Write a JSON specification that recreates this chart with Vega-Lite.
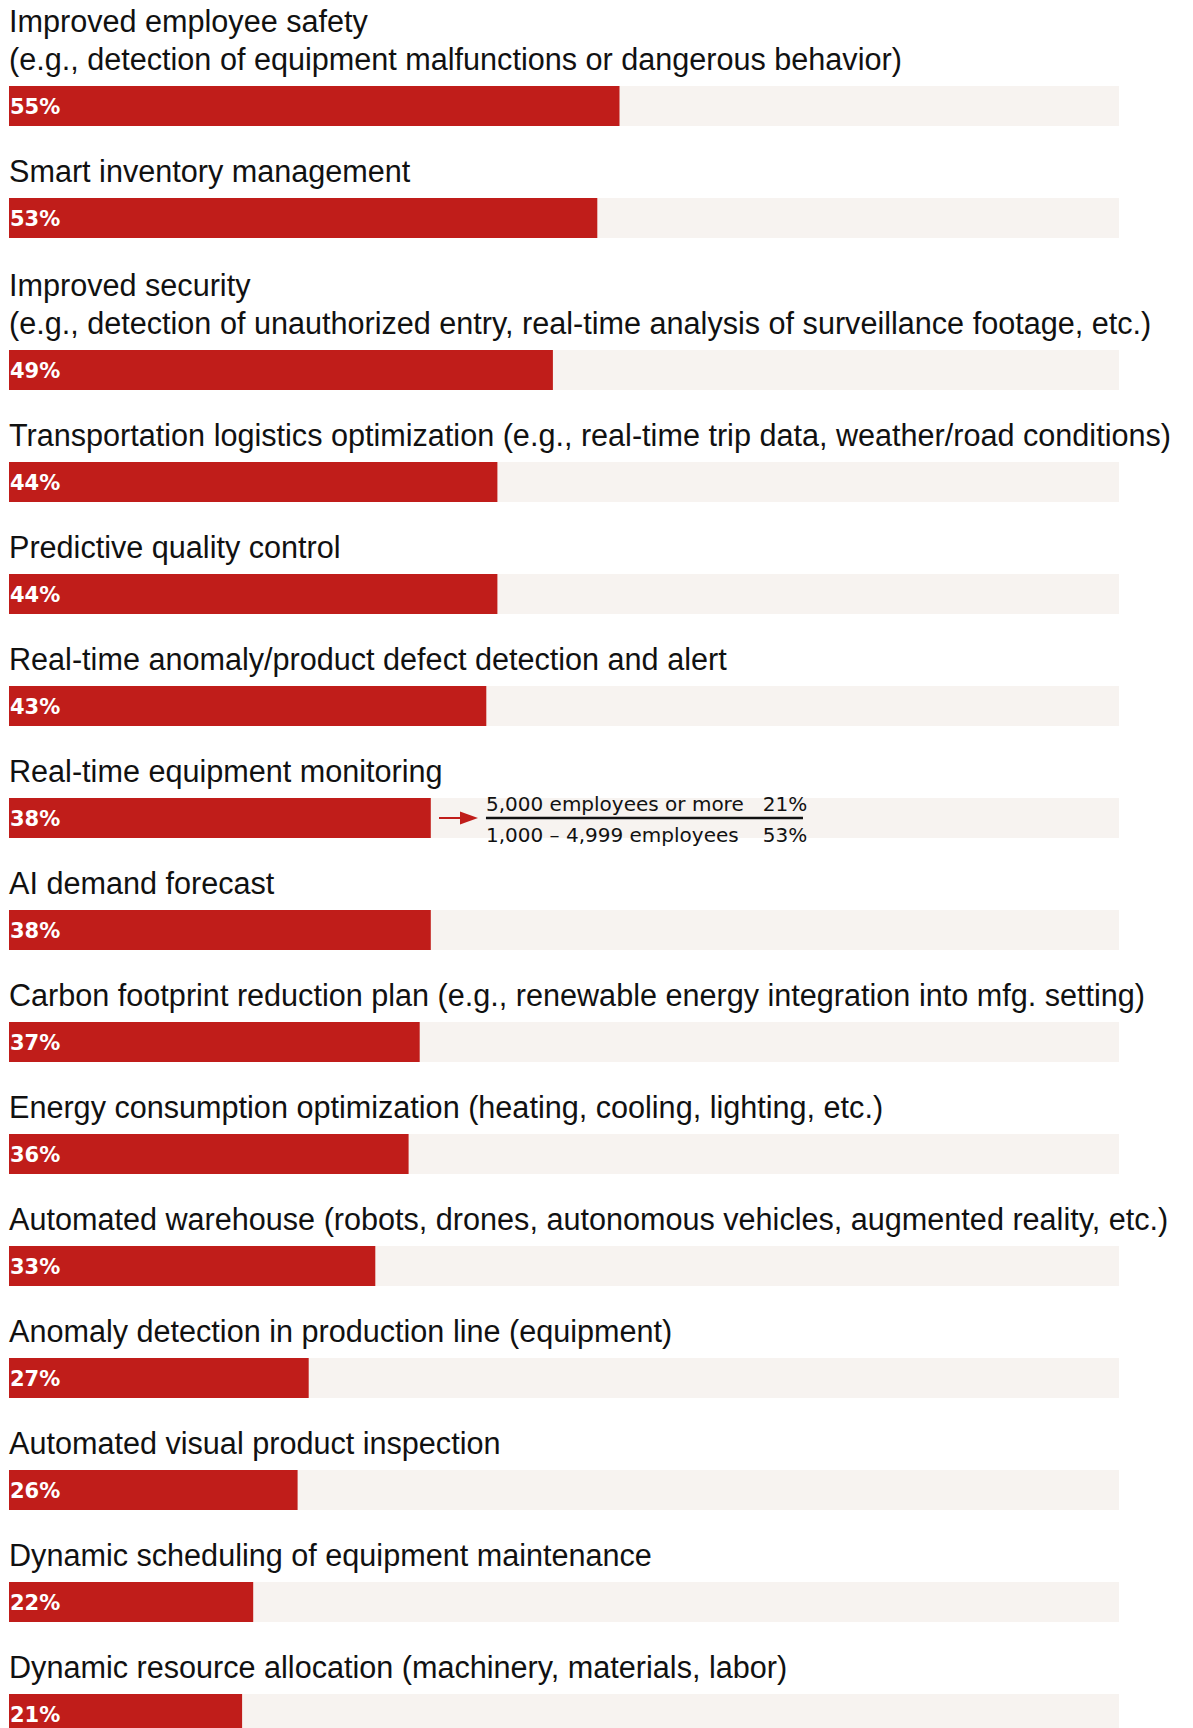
{
  "$schema": "https://vega.github.io/schema/vega-lite/v6.json",
  "background": "white",
  "padding": {"left": 9, "top": 0, "right": 0, "bottom": 0},
  "bounds": "flush",
  "spacing": 0,
  "config": {
    "view": {"stroke": null},
    "font": "Liberation Sans",
    "axis": {"disable": true}
  },
  "datasets": {
    "uses": [
      {"rank": 1, "use": "Improved employee safety\n(e.g., detection of equipment malfunctions or dangerous behavior)", "share": 0.55},
      {"rank": 2, "use": "Smart inventory management", "share": 0.53},
      {"rank": 3, "use": "Improved security\n(e.g., detection of unauthorized entry, real-time analysis of surveillance footage, etc.)", "share": 0.49},
      {"rank": 4, "use": "Transportation logistics optimization (e.g., real-time trip data, weather/road conditions)", "share": 0.44},
      {"rank": 5, "use": "Predictive quality control", "share": 0.44},
      {"rank": 6, "use": "Real-time anomaly/product defect detection and alert", "share": 0.43},
      {"rank": 7, "use": "Real-time equipment monitoring", "share": 0.38},
      {"rank": 8, "use": "AI demand forecast", "share": 0.38},
      {"rank": 9, "use": "Carbon footprint reduction plan (e.g., renewable energy integration into mfg. setting)", "share": 0.37},
      {"rank": 10, "use": "Energy consumption optimization (heating, cooling, lighting, etc.)", "share": 0.36},
      {"rank": 11, "use": "Automated warehouse (robots, drones, autonomous vehicles, augmented reality, etc.)", "share": 0.33},
      {"rank": 12, "use": "Anomaly detection in production line (equipment)", "share": 0.27},
      {"rank": 13, "use": "Automated visual product inspection", "share": 0.26},
      {"rank": 14, "use": "Dynamic scheduling of equipment maintenance", "share": 0.22},
      {"rank": 15, "use": "Dynamic resource allocation (machinery, materials, labor)", "share": 0.21}
    ],
    "split": [
      {"use": "Real-time equipment monitoring", "tier": 1, "group": "5,000 employees or more", "share": 0.21},
      {"use": "Real-time equipment monitoring", "tier": 2, "group": "1,000 – 4,999 employees", "share": 0.53}
    ]
  },
  "data": {"name": "uses"},
  "vconcat": [
    {
      "width": 1110, "height": 126,
      "transform": [{"filter": "datum.rank === 1"}],
      "encoding": {"y": {"field": "use", "type": "nominal", "axis": null, "scale": {"paddingInner": 0.0698, "paddingOuter": 1, "align": 1}}},
      "layer": [
        {"mark": {"type": "bar", "color": "#F7F3F0"}, "encoding": {"x": {"datum": 1, "type": "quantitative", "scale": {"domain": [0, 1]}, "axis": null}}},
        {"mark": {"type": "bar", "color": "#C01D1A"}, "encoding": {"x": {"field": "share", "type": "quantitative", "scale": {"domain": [0, 1]}, "axis": null}}},
        {"mark": {"type": "text", "align": "left", "baseline": "middle", "dx": 1, "dy": 2, "font": "DejaVu Sans", "fontSize": 21, "fontWeight": "bold", "color": "#ffffff"}, "encoding": {"x": {"datum": 0, "type": "quantitative", "scale": {"domain": [0, 1]}}, "text": {"field": "share", "format": ".0%"}}},
        {"mark": {"type": "text", "align": "left", "baseline": "bottom", "dy": -48, "lineBreak": "\n", "lineHeight": 38, "fontSize": 30.6, "color": "#111111"}, "encoding": {"x": {"datum": 0, "type": "quantitative", "scale": {"domain": [0, 1]}}, "y": {"field": "use", "type": "nominal", "bandPosition": 0}, "text": {"field": "use"}}}
      ]
    },
    {
      "width": 1110, "height": 112,
      "transform": [{"filter": "datum.rank === 2"}],
      "encoding": {"y": {"field": "use", "type": "nominal", "axis": null, "scale": {"paddingInner": 0, "paddingOuter": 0.9, "align": 1}}},
      "layer": [
        {"mark": {"type": "bar", "color": "#F7F3F0"}, "encoding": {"x": {"datum": 1, "type": "quantitative", "scale": {"domain": [0, 1]}, "axis": null}}},
        {"mark": {"type": "bar", "color": "#C01D1A"}, "encoding": {"x": {"field": "share", "type": "quantitative", "scale": {"domain": [0, 1]}, "axis": null}}},
        {"mark": {"type": "text", "align": "left", "baseline": "middle", "dx": 1, "dy": 2, "font": "DejaVu Sans", "fontSize": 21, "fontWeight": "bold", "color": "#ffffff"}, "encoding": {"x": {"datum": 0, "type": "quantitative", "scale": {"domain": [0, 1]}}, "text": {"field": "share", "format": ".0%"}}},
        {"mark": {"type": "text", "align": "left", "baseline": "bottom", "dy": -10, "lineBreak": "\n", "lineHeight": 38, "fontSize": 30.6, "color": "#111111"}, "encoding": {"x": {"datum": 0, "type": "quantitative", "scale": {"domain": [0, 1]}}, "y": {"field": "use", "type": "nominal", "bandPosition": 0}, "text": {"field": "use"}}}
      ]
    },
    {
      "width": 1110, "height": 152,
      "transform": [{"filter": "datum.rank === 3"}],
      "encoding": {"y": {"field": "use", "type": "nominal", "axis": null, "scale": {"paddingInner": 0.2857, "paddingOuter": 1, "align": 1}}},
      "layer": [
        {"mark": {"type": "bar", "color": "#F7F3F0"}, "encoding": {"x": {"datum": 1, "type": "quantitative", "scale": {"domain": [0, 1]}, "axis": null}}},
        {"mark": {"type": "bar", "color": "#C01D1A"}, "encoding": {"x": {"field": "share", "type": "quantitative", "scale": {"domain": [0, 1]}, "axis": null}}},
        {"mark": {"type": "text", "align": "left", "baseline": "middle", "dx": 1, "dy": 2, "font": "DejaVu Sans", "fontSize": 21, "fontWeight": "bold", "color": "#ffffff"}, "encoding": {"x": {"datum": 0, "type": "quantitative", "scale": {"domain": [0, 1]}}, "text": {"field": "share", "format": ".0%"}}},
        {"mark": {"type": "text", "align": "left", "baseline": "bottom", "dy": -48, "lineBreak": "\n", "lineHeight": 38, "fontSize": 30.6, "color": "#111111"}, "encoding": {"x": {"datum": 0, "type": "quantitative", "scale": {"domain": [0, 1]}}, "y": {"field": "use", "type": "nominal", "bandPosition": 0}, "text": {"field": "use"}}}
      ]
    },
    {
      "width": 1110, "height": 112,
      "transform": [{"filter": "datum.rank === 4"}],
      "encoding": {"y": {"field": "use", "type": "nominal", "axis": null, "scale": {"paddingInner": 0, "paddingOuter": 0.9, "align": 1}}},
      "layer": [
        {"mark": {"type": "bar", "color": "#F7F3F0"}, "encoding": {"x": {"datum": 1, "type": "quantitative", "scale": {"domain": [0, 1]}, "axis": null}}},
        {"mark": {"type": "bar", "color": "#C01D1A"}, "encoding": {"x": {"field": "share", "type": "quantitative", "scale": {"domain": [0, 1]}, "axis": null}}},
        {"mark": {"type": "text", "align": "left", "baseline": "middle", "dx": 1, "dy": 2, "font": "DejaVu Sans", "fontSize": 21, "fontWeight": "bold", "color": "#ffffff"}, "encoding": {"x": {"datum": 0, "type": "quantitative", "scale": {"domain": [0, 1]}}, "text": {"field": "share", "format": ".0%"}}},
        {"mark": {"type": "text", "align": "left", "baseline": "bottom", "dy": -10, "lineBreak": "\n", "lineHeight": 38, "fontSize": 30.6, "color": "#111111"}, "encoding": {"x": {"datum": 0, "type": "quantitative", "scale": {"domain": [0, 1]}}, "y": {"field": "use", "type": "nominal", "bandPosition": 0}, "text": {"field": "use"}}}
      ]
    },
    {
      "width": 1110, "height": 112,
      "transform": [{"filter": "datum.rank === 5"}],
      "encoding": {"y": {"field": "use", "type": "nominal", "axis": null, "scale": {"paddingInner": 0, "paddingOuter": 0.9, "align": 1}}},
      "layer": [
        {"mark": {"type": "bar", "color": "#F7F3F0"}, "encoding": {"x": {"datum": 1, "type": "quantitative", "scale": {"domain": [0, 1]}, "axis": null}}},
        {"mark": {"type": "bar", "color": "#C01D1A"}, "encoding": {"x": {"field": "share", "type": "quantitative", "scale": {"domain": [0, 1]}, "axis": null}}},
        {"mark": {"type": "text", "align": "left", "baseline": "middle", "dx": 1, "dy": 2, "font": "DejaVu Sans", "fontSize": 21, "fontWeight": "bold", "color": "#ffffff"}, "encoding": {"x": {"datum": 0, "type": "quantitative", "scale": {"domain": [0, 1]}}, "text": {"field": "share", "format": ".0%"}}},
        {"mark": {"type": "text", "align": "left", "baseline": "bottom", "dy": -10, "lineBreak": "\n", "lineHeight": 38, "fontSize": 30.6, "color": "#111111"}, "encoding": {"x": {"datum": 0, "type": "quantitative", "scale": {"domain": [0, 1]}}, "y": {"field": "use", "type": "nominal", "bandPosition": 0}, "text": {"field": "use"}}}
      ]
    },
    {
      "width": 1110, "height": 112,
      "transform": [{"filter": "datum.rank === 6"}],
      "encoding": {"y": {"field": "use", "type": "nominal", "axis": null, "scale": {"paddingInner": 0, "paddingOuter": 0.9, "align": 1}}},
      "layer": [
        {"mark": {"type": "bar", "color": "#F7F3F0"}, "encoding": {"x": {"datum": 1, "type": "quantitative", "scale": {"domain": [0, 1]}, "axis": null}}},
        {"mark": {"type": "bar", "color": "#C01D1A"}, "encoding": {"x": {"field": "share", "type": "quantitative", "scale": {"domain": [0, 1]}, "axis": null}}},
        {"mark": {"type": "text", "align": "left", "baseline": "middle", "dx": 1, "dy": 2, "font": "DejaVu Sans", "fontSize": 21, "fontWeight": "bold", "color": "#ffffff"}, "encoding": {"x": {"datum": 0, "type": "quantitative", "scale": {"domain": [0, 1]}}, "text": {"field": "share", "format": ".0%"}}},
        {"mark": {"type": "text", "align": "left", "baseline": "bottom", "dy": -10, "lineBreak": "\n", "lineHeight": 38, "fontSize": 30.6, "color": "#111111"}, "encoding": {"x": {"datum": 0, "type": "quantitative", "scale": {"domain": [0, 1]}}, "y": {"field": "use", "type": "nominal", "bandPosition": 0}, "text": {"field": "use"}}}
      ]
    },
    {
      "width": 1110, "height": 112,
      "encoding": {"y": {"field": "use", "type": "nominal", "axis": null, "scale": {"paddingInner": 0, "paddingOuter": 0.9, "align": 1}}},
      "layer": [
        {
          "transform": [{"filter": "datum.rank === 7"}],
          "layer": [
            {"mark": {"type": "bar", "color": "#F7F3F0"}, "encoding": {"x": {"datum": 1, "type": "quantitative", "scale": {"domain": [0, 1]}, "axis": null}}},
            {"mark": {"type": "bar", "color": "#C01D1A"}, "encoding": {"x": {"field": "share", "type": "quantitative", "scale": {"domain": [0, 1]}, "axis": null}}},
            {"mark": {"type": "text", "align": "left", "baseline": "middle", "dx": 1, "dy": 2, "font": "DejaVu Sans", "fontSize": 21, "fontWeight": "bold", "color": "#ffffff"}, "encoding": {"x": {"datum": 0, "type": "quantitative", "scale": {"domain": [0, 1]}}, "text": {"field": "share", "format": ".0%"}}},
            {"mark": {"type": "text", "align": "left", "baseline": "bottom", "dy": -10, "lineBreak": "\n", "lineHeight": 38, "fontSize": 30.6, "color": "#111111"}, "encoding": {"x": {"datum": 0, "type": "quantitative", "scale": {"domain": [0, 1]}}, "y": {"field": "use", "type": "nominal", "bandPosition": 0}, "text": {"field": "use"}}},
            {"mark": {"type": "rule", "color": "#C01D1A", "strokeWidth": 2}, "encoding": {"x": {"datum": 0.3874, "type": "quantitative", "scale": {"domain": [0, 1]}}, "x2": {"datum": 0.41}}},
            {"mark": {"type": "point", "shape": "M-1,-0.72L1,0L-1,0.72Z", "filled": true, "opacity": 1, "color": "#C01D1A", "size": 324}, "encoding": {"x": {"datum": 0.4144, "type": "quantitative", "scale": {"domain": [0, 1]}}}},
            {"mark": {"type": "rule", "color": "#111111", "strokeWidth": 2.6}, "encoding": {"x": {"datum": 0.4297, "type": "quantitative", "scale": {"domain": [0, 1]}}, "x2": {"datum": 0.7153}}}
          ]
        },
        {
          "data": {"name": "split"},
          "layer": [
            {"transform": [{"filter": "datum.tier === 1"}], "mark": {"type": "text", "align": "left", "baseline": "alphabetic", "dy": -7, "font": "DejaVu Sans", "fontSize": 20, "color": "#111111"}, "encoding": {"x": {"datum": 0.4297, "type": "quantitative", "scale": {"domain": [0, 1]}}, "text": {"field": "group"}}},
            {"transform": [{"filter": "datum.tier === 1"}], "mark": {"type": "text", "align": "left", "baseline": "alphabetic", "dy": -7, "font": "DejaVu Sans", "fontSize": 20, "color": "#111111"}, "encoding": {"x": {"datum": 0.679, "type": "quantitative", "scale": {"domain": [0, 1]}}, "text": {"field": "share", "format": ".0%"}}},
            {"transform": [{"filter": "datum.tier === 2"}], "mark": {"type": "text", "align": "left", "baseline": "alphabetic", "dy": 24, "font": "DejaVu Sans", "fontSize": 20, "color": "#111111"}, "encoding": {"x": {"datum": 0.4297, "type": "quantitative", "scale": {"domain": [0, 1]}}, "text": {"field": "group"}}},
            {"transform": [{"filter": "datum.tier === 2"}], "mark": {"type": "text", "align": "left", "baseline": "alphabetic", "dy": 24, "font": "DejaVu Sans", "fontSize": 20, "color": "#111111"}, "encoding": {"x": {"datum": 0.679, "type": "quantitative", "scale": {"domain": [0, 1]}}, "text": {"field": "share", "format": ".0%"}}}
          ]
        }
      ]
    },
    {
      "width": 1110, "height": 112,
      "transform": [{"filter": "datum.rank === 8"}],
      "encoding": {"y": {"field": "use", "type": "nominal", "axis": null, "scale": {"paddingInner": 0, "paddingOuter": 0.9, "align": 1}}},
      "layer": [
        {"mark": {"type": "bar", "color": "#F7F3F0"}, "encoding": {"x": {"datum": 1, "type": "quantitative", "scale": {"domain": [0, 1]}, "axis": null}}},
        {"mark": {"type": "bar", "color": "#C01D1A"}, "encoding": {"x": {"field": "share", "type": "quantitative", "scale": {"domain": [0, 1]}, "axis": null}}},
        {"mark": {"type": "text", "align": "left", "baseline": "middle", "dx": 1, "dy": 2, "font": "DejaVu Sans", "fontSize": 21, "fontWeight": "bold", "color": "#ffffff"}, "encoding": {"x": {"datum": 0, "type": "quantitative", "scale": {"domain": [0, 1]}}, "text": {"field": "share", "format": ".0%"}}},
        {"mark": {"type": "text", "align": "left", "baseline": "bottom", "dy": -10, "lineBreak": "\n", "lineHeight": 38, "fontSize": 30.6, "color": "#111111"}, "encoding": {"x": {"datum": 0, "type": "quantitative", "scale": {"domain": [0, 1]}}, "y": {"field": "use", "type": "nominal", "bandPosition": 0}, "text": {"field": "use"}}}
      ]
    },
    {
      "width": 1110, "height": 112,
      "transform": [{"filter": "datum.rank === 9"}],
      "encoding": {"y": {"field": "use", "type": "nominal", "axis": null, "scale": {"paddingInner": 0, "paddingOuter": 0.9, "align": 1}}},
      "layer": [
        {"mark": {"type": "bar", "color": "#F7F3F0"}, "encoding": {"x": {"datum": 1, "type": "quantitative", "scale": {"domain": [0, 1]}, "axis": null}}},
        {"mark": {"type": "bar", "color": "#C01D1A"}, "encoding": {"x": {"field": "share", "type": "quantitative", "scale": {"domain": [0, 1]}, "axis": null}}},
        {"mark": {"type": "text", "align": "left", "baseline": "middle", "dx": 1, "dy": 2, "font": "DejaVu Sans", "fontSize": 21, "fontWeight": "bold", "color": "#ffffff"}, "encoding": {"x": {"datum": 0, "type": "quantitative", "scale": {"domain": [0, 1]}}, "text": {"field": "share", "format": ".0%"}}},
        {"mark": {"type": "text", "align": "left", "baseline": "bottom", "dy": -10, "lineBreak": "\n", "lineHeight": 38, "fontSize": 30.6, "color": "#111111"}, "encoding": {"x": {"datum": 0, "type": "quantitative", "scale": {"domain": [0, 1]}}, "y": {"field": "use", "type": "nominal", "bandPosition": 0}, "text": {"field": "use"}}}
      ]
    },
    {
      "width": 1110, "height": 112,
      "transform": [{"filter": "datum.rank === 10"}],
      "encoding": {"y": {"field": "use", "type": "nominal", "axis": null, "scale": {"paddingInner": 0, "paddingOuter": 0.9, "align": 1}}},
      "layer": [
        {"mark": {"type": "bar", "color": "#F7F3F0"}, "encoding": {"x": {"datum": 1, "type": "quantitative", "scale": {"domain": [0, 1]}, "axis": null}}},
        {"mark": {"type": "bar", "color": "#C01D1A"}, "encoding": {"x": {"field": "share", "type": "quantitative", "scale": {"domain": [0, 1]}, "axis": null}}},
        {"mark": {"type": "text", "align": "left", "baseline": "middle", "dx": 1, "dy": 2, "font": "DejaVu Sans", "fontSize": 21, "fontWeight": "bold", "color": "#ffffff"}, "encoding": {"x": {"datum": 0, "type": "quantitative", "scale": {"domain": [0, 1]}}, "text": {"field": "share", "format": ".0%"}}},
        {"mark": {"type": "text", "align": "left", "baseline": "bottom", "dy": -10, "lineBreak": "\n", "lineHeight": 38, "fontSize": 30.6, "color": "#111111"}, "encoding": {"x": {"datum": 0, "type": "quantitative", "scale": {"domain": [0, 1]}}, "y": {"field": "use", "type": "nominal", "bandPosition": 0}, "text": {"field": "use"}}}
      ]
    },
    {
      "width": 1110, "height": 112,
      "transform": [{"filter": "datum.rank === 11"}],
      "encoding": {"y": {"field": "use", "type": "nominal", "axis": null, "scale": {"paddingInner": 0, "paddingOuter": 0.9, "align": 1}}},
      "layer": [
        {"mark": {"type": "bar", "color": "#F7F3F0"}, "encoding": {"x": {"datum": 1, "type": "quantitative", "scale": {"domain": [0, 1]}, "axis": null}}},
        {"mark": {"type": "bar", "color": "#C01D1A"}, "encoding": {"x": {"field": "share", "type": "quantitative", "scale": {"domain": [0, 1]}, "axis": null}}},
        {"mark": {"type": "text", "align": "left", "baseline": "middle", "dx": 1, "dy": 2, "font": "DejaVu Sans", "fontSize": 21, "fontWeight": "bold", "color": "#ffffff"}, "encoding": {"x": {"datum": 0, "type": "quantitative", "scale": {"domain": [0, 1]}}, "text": {"field": "share", "format": ".0%"}}},
        {"mark": {"type": "text", "align": "left", "baseline": "bottom", "dy": -10, "lineBreak": "\n", "lineHeight": 38, "fontSize": 30.6, "color": "#111111"}, "encoding": {"x": {"datum": 0, "type": "quantitative", "scale": {"domain": [0, 1]}}, "y": {"field": "use", "type": "nominal", "bandPosition": 0}, "text": {"field": "use"}}}
      ]
    },
    {
      "width": 1110, "height": 112,
      "transform": [{"filter": "datum.rank === 12"}],
      "encoding": {"y": {"field": "use", "type": "nominal", "axis": null, "scale": {"paddingInner": 0, "paddingOuter": 0.9, "align": 1}}},
      "layer": [
        {"mark": {"type": "bar", "color": "#F7F3F0"}, "encoding": {"x": {"datum": 1, "type": "quantitative", "scale": {"domain": [0, 1]}, "axis": null}}},
        {"mark": {"type": "bar", "color": "#C01D1A"}, "encoding": {"x": {"field": "share", "type": "quantitative", "scale": {"domain": [0, 1]}, "axis": null}}},
        {"mark": {"type": "text", "align": "left", "baseline": "middle", "dx": 1, "dy": 2, "font": "DejaVu Sans", "fontSize": 21, "fontWeight": "bold", "color": "#ffffff"}, "encoding": {"x": {"datum": 0, "type": "quantitative", "scale": {"domain": [0, 1]}}, "text": {"field": "share", "format": ".0%"}}},
        {"mark": {"type": "text", "align": "left", "baseline": "bottom", "dy": -10, "lineBreak": "\n", "lineHeight": 38, "fontSize": 30.6, "color": "#111111"}, "encoding": {"x": {"datum": 0, "type": "quantitative", "scale": {"domain": [0, 1]}}, "y": {"field": "use", "type": "nominal", "bandPosition": 0}, "text": {"field": "use"}}}
      ]
    },
    {
      "width": 1110, "height": 112,
      "transform": [{"filter": "datum.rank === 13"}],
      "encoding": {"y": {"field": "use", "type": "nominal", "axis": null, "scale": {"paddingInner": 0, "paddingOuter": 0.9, "align": 1}}},
      "layer": [
        {"mark": {"type": "bar", "color": "#F7F3F0"}, "encoding": {"x": {"datum": 1, "type": "quantitative", "scale": {"domain": [0, 1]}, "axis": null}}},
        {"mark": {"type": "bar", "color": "#C01D1A"}, "encoding": {"x": {"field": "share", "type": "quantitative", "scale": {"domain": [0, 1]}, "axis": null}}},
        {"mark": {"type": "text", "align": "left", "baseline": "middle", "dx": 1, "dy": 2, "font": "DejaVu Sans", "fontSize": 21, "fontWeight": "bold", "color": "#ffffff"}, "encoding": {"x": {"datum": 0, "type": "quantitative", "scale": {"domain": [0, 1]}}, "text": {"field": "share", "format": ".0%"}}},
        {"mark": {"type": "text", "align": "left", "baseline": "bottom", "dy": -10, "lineBreak": "\n", "lineHeight": 38, "fontSize": 30.6, "color": "#111111"}, "encoding": {"x": {"datum": 0, "type": "quantitative", "scale": {"domain": [0, 1]}}, "y": {"field": "use", "type": "nominal", "bandPosition": 0}, "text": {"field": "use"}}}
      ]
    },
    {
      "width": 1110, "height": 112,
      "transform": [{"filter": "datum.rank === 14"}],
      "encoding": {"y": {"field": "use", "type": "nominal", "axis": null, "scale": {"paddingInner": 0, "paddingOuter": 0.9, "align": 1}}},
      "layer": [
        {"mark": {"type": "bar", "color": "#F7F3F0"}, "encoding": {"x": {"datum": 1, "type": "quantitative", "scale": {"domain": [0, 1]}, "axis": null}}},
        {"mark": {"type": "bar", "color": "#C01D1A"}, "encoding": {"x": {"field": "share", "type": "quantitative", "scale": {"domain": [0, 1]}, "axis": null}}},
        {"mark": {"type": "text", "align": "left", "baseline": "middle", "dx": 1, "dy": 2, "font": "DejaVu Sans", "fontSize": 21, "fontWeight": "bold", "color": "#ffffff"}, "encoding": {"x": {"datum": 0, "type": "quantitative", "scale": {"domain": [0, 1]}}, "text": {"field": "share", "format": ".0%"}}},
        {"mark": {"type": "text", "align": "left", "baseline": "bottom", "dy": -10, "lineBreak": "\n", "lineHeight": 38, "fontSize": 30.6, "color": "#111111"}, "encoding": {"x": {"datum": 0, "type": "quantitative", "scale": {"domain": [0, 1]}}, "y": {"field": "use", "type": "nominal", "bandPosition": 0}, "text": {"field": "use"}}}
      ]
    },
    {
      "width": 1110, "height": 112,
      "transform": [{"filter": "datum.rank === 15"}],
      "encoding": {"y": {"field": "use", "type": "nominal", "axis": null, "scale": {"paddingInner": 0, "paddingOuter": 0.9, "align": 1}}},
      "layer": [
        {"mark": {"type": "bar", "color": "#F7F3F0"}, "encoding": {"x": {"datum": 1, "type": "quantitative", "scale": {"domain": [0, 1]}, "axis": null}}},
        {"mark": {"type": "bar", "color": "#C01D1A"}, "encoding": {"x": {"field": "share", "type": "quantitative", "scale": {"domain": [0, 1]}, "axis": null}}},
        {"mark": {"type": "text", "align": "left", "baseline": "middle", "dx": 1, "dy": 2, "font": "DejaVu Sans", "fontSize": 21, "fontWeight": "bold", "color": "#ffffff"}, "encoding": {"x": {"datum": 0, "type": "quantitative", "scale": {"domain": [0, 1]}}, "text": {"field": "share", "format": ".0%"}}},
        {"mark": {"type": "text", "align": "left", "baseline": "bottom", "dy": -10, "lineBreak": "\n", "lineHeight": 38, "fontSize": 30.6, "color": "#111111"}, "encoding": {"x": {"datum": 0, "type": "quantitative", "scale": {"domain": [0, 1]}}, "y": {"field": "use", "type": "nominal", "bandPosition": 0}, "text": {"field": "use"}}}
      ]
    }
  ]
}
